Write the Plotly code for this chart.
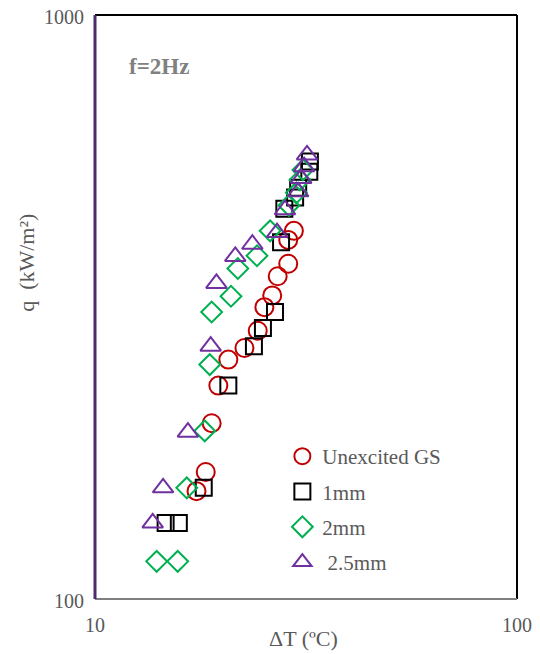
import plotly.graph_objects as go

# Unexcited GS (red circles)
gs_dt = [29.6, 28.7, 28.7, 27.1, 26.3, 25.2, 24.3, 22.6, 20.7, 19.6, 18.9, 18.3, 17.4]
gs_q = [427, 412, 375, 357, 331, 316, 288, 269, 257, 232, 200, 165, 153]

# 1mm (black squares)
mm1_dt = [32.3, 32.2, 30.3, 29.8, 28.1, 27.6, 26.7, 25.0, 23.8, 20.7, 18.1, 15.8, 14.7]
mm1_q = [561, 539, 506, 487, 466, 408, 310, 291, 271, 232, 155, 135, 135]

# 2mm (green diamonds)
mm2_dt = [31.1, 30.6, 30.0, 28.8, 26.0, 24.2, 21.8, 21.0, 18.9, 18.7, 18.2, 16.5, 15.7, 14.0]
mm2_q = [543, 522, 496, 472, 427, 387, 368, 330, 310, 252, 194, 155, 116, 116]

# 2.5mm (purple triangles)
mm25_dt = [31.8, 31.3, 30.8, 30.3, 28.2, 27.0, 23.6, 21.5, 19.4, 18.8, 16.6, 14.5, 13.7]
mm25_q = [576, 550, 525, 498, 464, 424, 405, 386, 347, 271, 193, 155, 135]

names = ["Unexcited GS", "1mm", "2mm", " 2.5mm"]
colors = ["#c00000", "#000000", "#00b050", "#7030a0"]
symbols = ["circle-open", "square-open", "diamond-open", "triangle-up-open"]
sizes = [18, 16, 16, 18]
xs = [gs_dt, mm1_dt, mm2_dt, mm25_dt]
ys = [gs_q, mm1_q, mm2_q, mm25_q]

FONT = "Liberation Serif"
GRAY = "#595959"

fig = go.Figure()
for i in range(4):
    fig.add_trace(go.Scatter(
        x=xs[i], y=ys[i], mode="markers", name=names[i],
        legendgroup=f"g{i}",
        marker=dict(symbol=symbols[i], size=sizes[i], color=colors[i],
                    line=dict(width=2, color=colors[i])),
    ))

fig.update_layout(
    width=540, height=654,
    margin=dict(l=95, r=23, t=15, b=55, autoexpand=False),
    paper_bgcolor="white", plot_bgcolor="white",
    font=dict(family=FONT, color=GRAY, size=20),
    showlegend=True,
    legend=dict(x=0.444, y=0.279, xanchor="left", yanchor="top",
                font=dict(family=FONT, size=21, color=GRAY),
                tracegroupgap=5, bgcolor="rgba(0,0,0,0)"),
    xaxis=dict(type="log", range=[1, 2], tickvals=[10, 100], ticktext=["10", "100"],
               showgrid=False, zeroline=False, showline=False, automargin=False,
               ticklabeloverflow="allow",
               ticks="outside", ticklen=8, tickcolor="rgba(0,0,0,0)",
               tickfont=dict(family=FONT, size=20, color=GRAY)),
    yaxis=dict(type="log", range=[2, 3], tickvals=[100, 1000], ticktext=["100", "1000"],
               showgrid=False, zeroline=False, showline=False, automargin=False,
               ticklabeloverflow="allow", ticklabelshift=2,
               ticks="outside", ticklen=6, tickcolor="rgba(0,0,0,0)",
               tickfont=dict(family=FONT, size=20, color=GRAY)),
    shapes=[
        dict(type="line", xref="paper", yref="paper", x0=0, x1=1, y0=1, y1=1,
             line=dict(color="black", width=2)),
        dict(type="line", xref="paper", yref="paper", x0=1, x1=1, y0=0, y1=1,
             line=dict(color="black", width=2)),
        dict(type="line", xref="paper", yref="paper", x0=0, x1=1, y0=0, y1=0,
             line=dict(color="#7f7f7f", width=2)),
        dict(type="line", xref="paper", yref="paper", x0=0, x1=0, y0=0, y1=1,
             line=dict(color="#4b2d6b", width=3)),
    ],
    annotations=[
        dict(text="<b>f=2Hz</b>", xref="paper", yref="paper", x=0.076, y=0.912,
             xanchor="left", yanchor="middle", showarrow=False,
             font=dict(family=FONT, size=23, color="#808080")),
        dict(text="ΔT (ºC)", xref="paper", yref="paper", x=0.495, y=-0.068,
             xanchor="center", yanchor="middle", showarrow=False,
             font=dict(family=FONT, size=22, color=GRAY)),
        dict(text="q  (kW/m²)", xref="paper", yref="paper", x=-0.162, y=0.575,
             xanchor="center", yanchor="middle", showarrow=False, textangle=-90,
             font=dict(family=FONT, size=22, color=GRAY)),
    ],
)

fig.write_html("out.html", config={"displayModeBar": False},
               post_script="document.body.style.margin='0px';")
